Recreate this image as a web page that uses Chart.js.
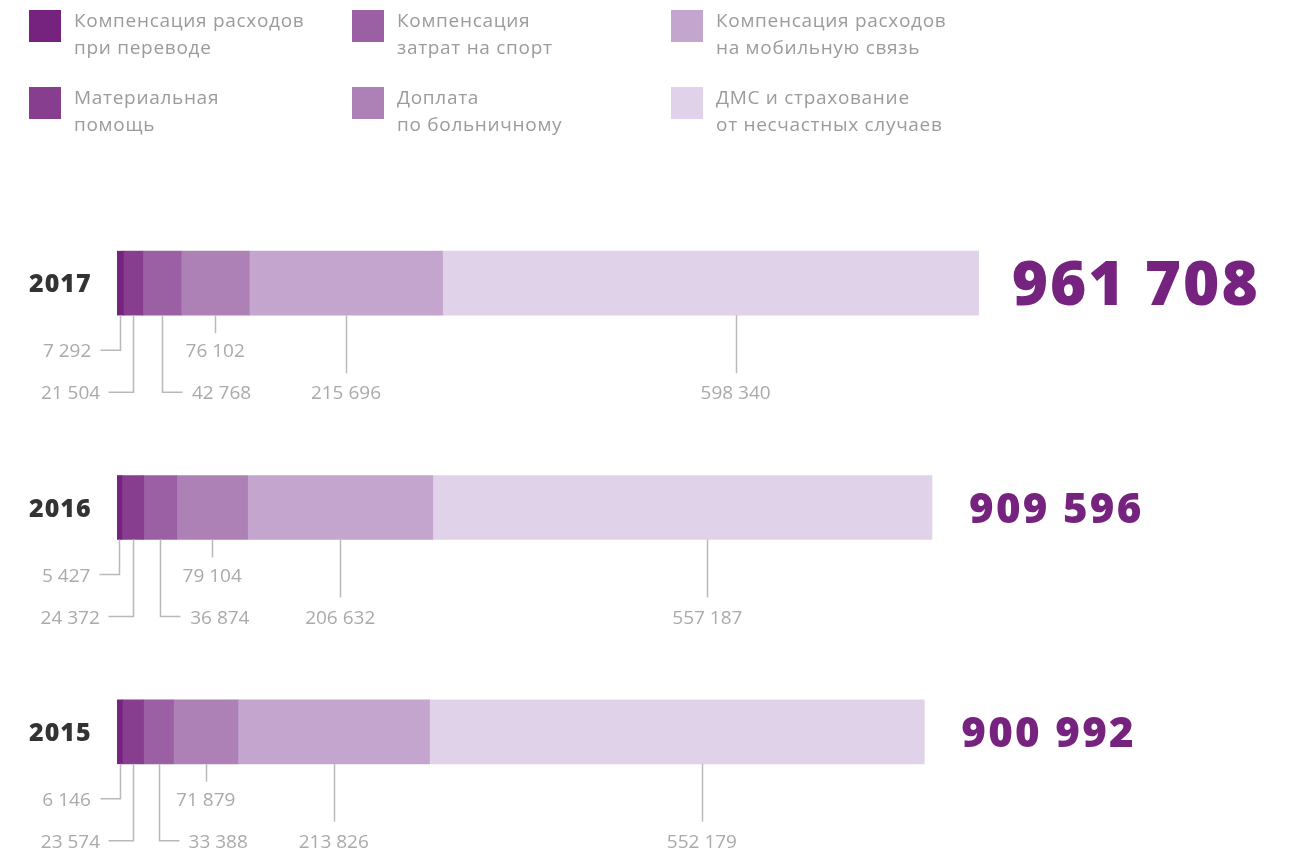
<!DOCTYPE html>
<html lang="ru">
<head>
<meta charset="utf-8">
<title>Социальные выплаты</title>
<script src="https://cdn.jsdelivr.net/npm/chart.js@4.4.1/dist/chart.umd.min.js"></script>
<style>
  html, body { margin: 0; padding: 0; background: #fff; }
  #wrap { position: relative; width: 1294px; height: 853px; overflow: hidden; }
  #chart { position: absolute; left: 0; top: 0; }
  .lg { position: absolute; font-family: "Open Sans", sans-serif; font-size: 19px; letter-spacing: 0.7px; line-height: 27px; color: #9b9b9b; }
  .lg i { position: absolute; left: 0; top: 3px; width: 32px; height: 32px; }
  .lg span { position: absolute; left: 45px; top: 0; white-space: nowrap; }
</style>
</head>
<body>
<div id="wrap">
  <canvas id="chart" width="1294" height="853"></canvas>
  <div id="legend"></div>
</div>
<script>
// Years shown as rows, newest first
const years = ['2017', '2016', '2015'];

// Series names (legend), split into two lines each
const seriesNames = [
  ['Компенсация расходов', 'при переводе'],
  ['Материальная', 'помощь'],
  ['Компенсация', 'затрат на спорт'],
  ['Доплата', 'по больничному'],
  ['Компенсация расходов', 'на мобильную связь'],
  ['ДМС и страхование', 'от несчастных случаев']
];

// Values per series, in the order of `years`
const transferComp  = [7292, 5427, 6146];
const materialAid   = [21504, 24372, 23574];
const sportComp     = [42768, 36874, 33388];
const sickPay       = [76102, 79104, 71879];
const mobileComp    = [215696, 206632, 213826];
const insurance     = [598340, 557187, 552179];

// Reported totals per year
const totals = [961708, 909596, 900992];

// Value axis range
const axisMin = 0;
const axisMax = 1000000;

const seriesColors = ['#76237f', '#883e8e', '#9b5fa4', '#ad81b6', '#c4a5ce', '#e0d3e9'];
const seriesValues = [transferComp, materialAid, sportComp, sickPay, mobileComp, insurance];

// Legend grid: column-major, two rows per column
const legendCols = [29, 352, 671];
const legendRows = [10, 87];
const legendEl = document.getElementById('legend');
seriesNames.forEach((lines, i) => {
  const d = document.createElement('div');
  d.className = 'lg';
  d.style.left = legendCols[Math.floor(i / 2)] + 'px';
  d.style.top = (legendRows[i % 2] - 3) + 'px';
  const sw = document.createElement('i');
  sw.style.background = seriesColors[i];
  const tx = document.createElement('span');
  tx.innerHTML = lines.join('<br>');
  d.appendChild(sw);
  d.appendChild(tx);
  legendEl.appendChild(d);
});

const fmt = v => String(v).replace(/\B(?=(\d{3})+(?!\d))/g, '\u00a0');

// Callout styling per series: drop length, hook, label placement
const callouts = [
  { drop: 35, hook: -20, align: 'right',  dx: -29, row: 35, shift: 0 },
  { drop: 77, hook: -25, align: 'right',  dx: -33, row: 77, shift: 0 },
  { drop: 77, hook: 20,  align: 'left',   dx: 30,  row: 77, shift: 0 },
  { drop: 18, hook: 0,   align: 'center', dx: 0,   row: 35, shift: 0 },
  { drop: 58, hook: 0,   align: 'center', dx: 0,   row: 77, shift: 0 },
  { drop: 58, hook: 0,   align: 'center', dx: 0,   row: 77, shift: 25 }
];

const annotations = {
  id: 'annotations',
  afterDatasetsDraw(chart) {
    const ctx = chart.ctx;
    const n = chart.data.labels.length;
    ctx.save();
    for (let i = 0; i < n; i++) {
      // callouts with values under each bar
      chart.data.datasets.forEach((ds, d) => {
        const el = chart.getDatasetMeta(d).data[i];
        const p = el.getProps(['x', 'y', 'base', 'height'], true);
        const bottom = p.y + p.height / 2;
        const c = callouts[d];
        const xc = (p.x + p.base) / 2 + c.shift;
        ctx.strokeStyle = '#b9b9b9';
        ctx.lineWidth = 1.5;
        ctx.beginPath();
        ctx.moveTo(Math.round(xc) + 0.5, bottom);
        ctx.lineTo(Math.round(xc) + 0.5, bottom + c.drop);
        if (c.hook) ctx.lineTo(Math.round(xc) + 0.5 + c.hook, bottom + c.drop);
        ctx.stroke();
        ctx.letterSpacing = '0px';
        ctx.font = '400 19px "Open Sans", sans-serif';
        ctx.fillStyle = '#aaaaaa';
        ctx.textAlign = c.align;
        ctx.textBaseline = 'alphabetic';
        ctx.fillText(fmt(ds.data[i]), xc + c.dx, bottom + c.row + 7);
      });

      // year label and total
      const last = chart.getDatasetMeta(chart.data.datasets.length - 1).data[i];
      const lp = last.getProps(['x', 'y'], true);
      ctx.font = '800 25px "Open Sans", sans-serif';
      ctx.letterSpacing = '1px';
      ctx.fillStyle = '#333333';
      ctx.textAlign = 'left';
      ctx.fillText(chart.data.labels[i], 29, lp.y + 9);

      const size = i === 0 ? 62 : 42;
      ctx.font = '800 ' + size + 'px "Open Sans", sans-serif';
      ctx.letterSpacing = (i === 0 ? 2 : 2.3) + 'px';
      ctx.fillStyle = '#76237f';
      ctx.fillText(fmt(totals[i]), lp.x + (i === 0 ? 33 : 37), lp.y + size * 0.36);
    }
    ctx.restore();
  }
};

new Chart(document.getElementById('chart'), {
  type: 'bar',
  data: {
    labels: years,
    datasets: seriesValues.map((vals, i) => ({
      label: seriesNames[i].join(' '),
      data: vals,
      backgroundColor: seriesColors[i],
      borderWidth: 0,
      barThickness: 64
    }))
  },
  options: {
    indexAxis: 'y',
    responsive: false,
    animation: false,
    layout: { padding: { left: 117, right: 281, top: 171, bottom: 9 } },
    scales: {
      x: { stacked: true, min: axisMin, max: axisMax, display: false },
      y: { stacked: true, display: false }
    },
    plugins: { legend: { display: false }, tooltip: { enabled: false } }
  },
  plugins: [annotations]
});
</script>
</body>
</html>
